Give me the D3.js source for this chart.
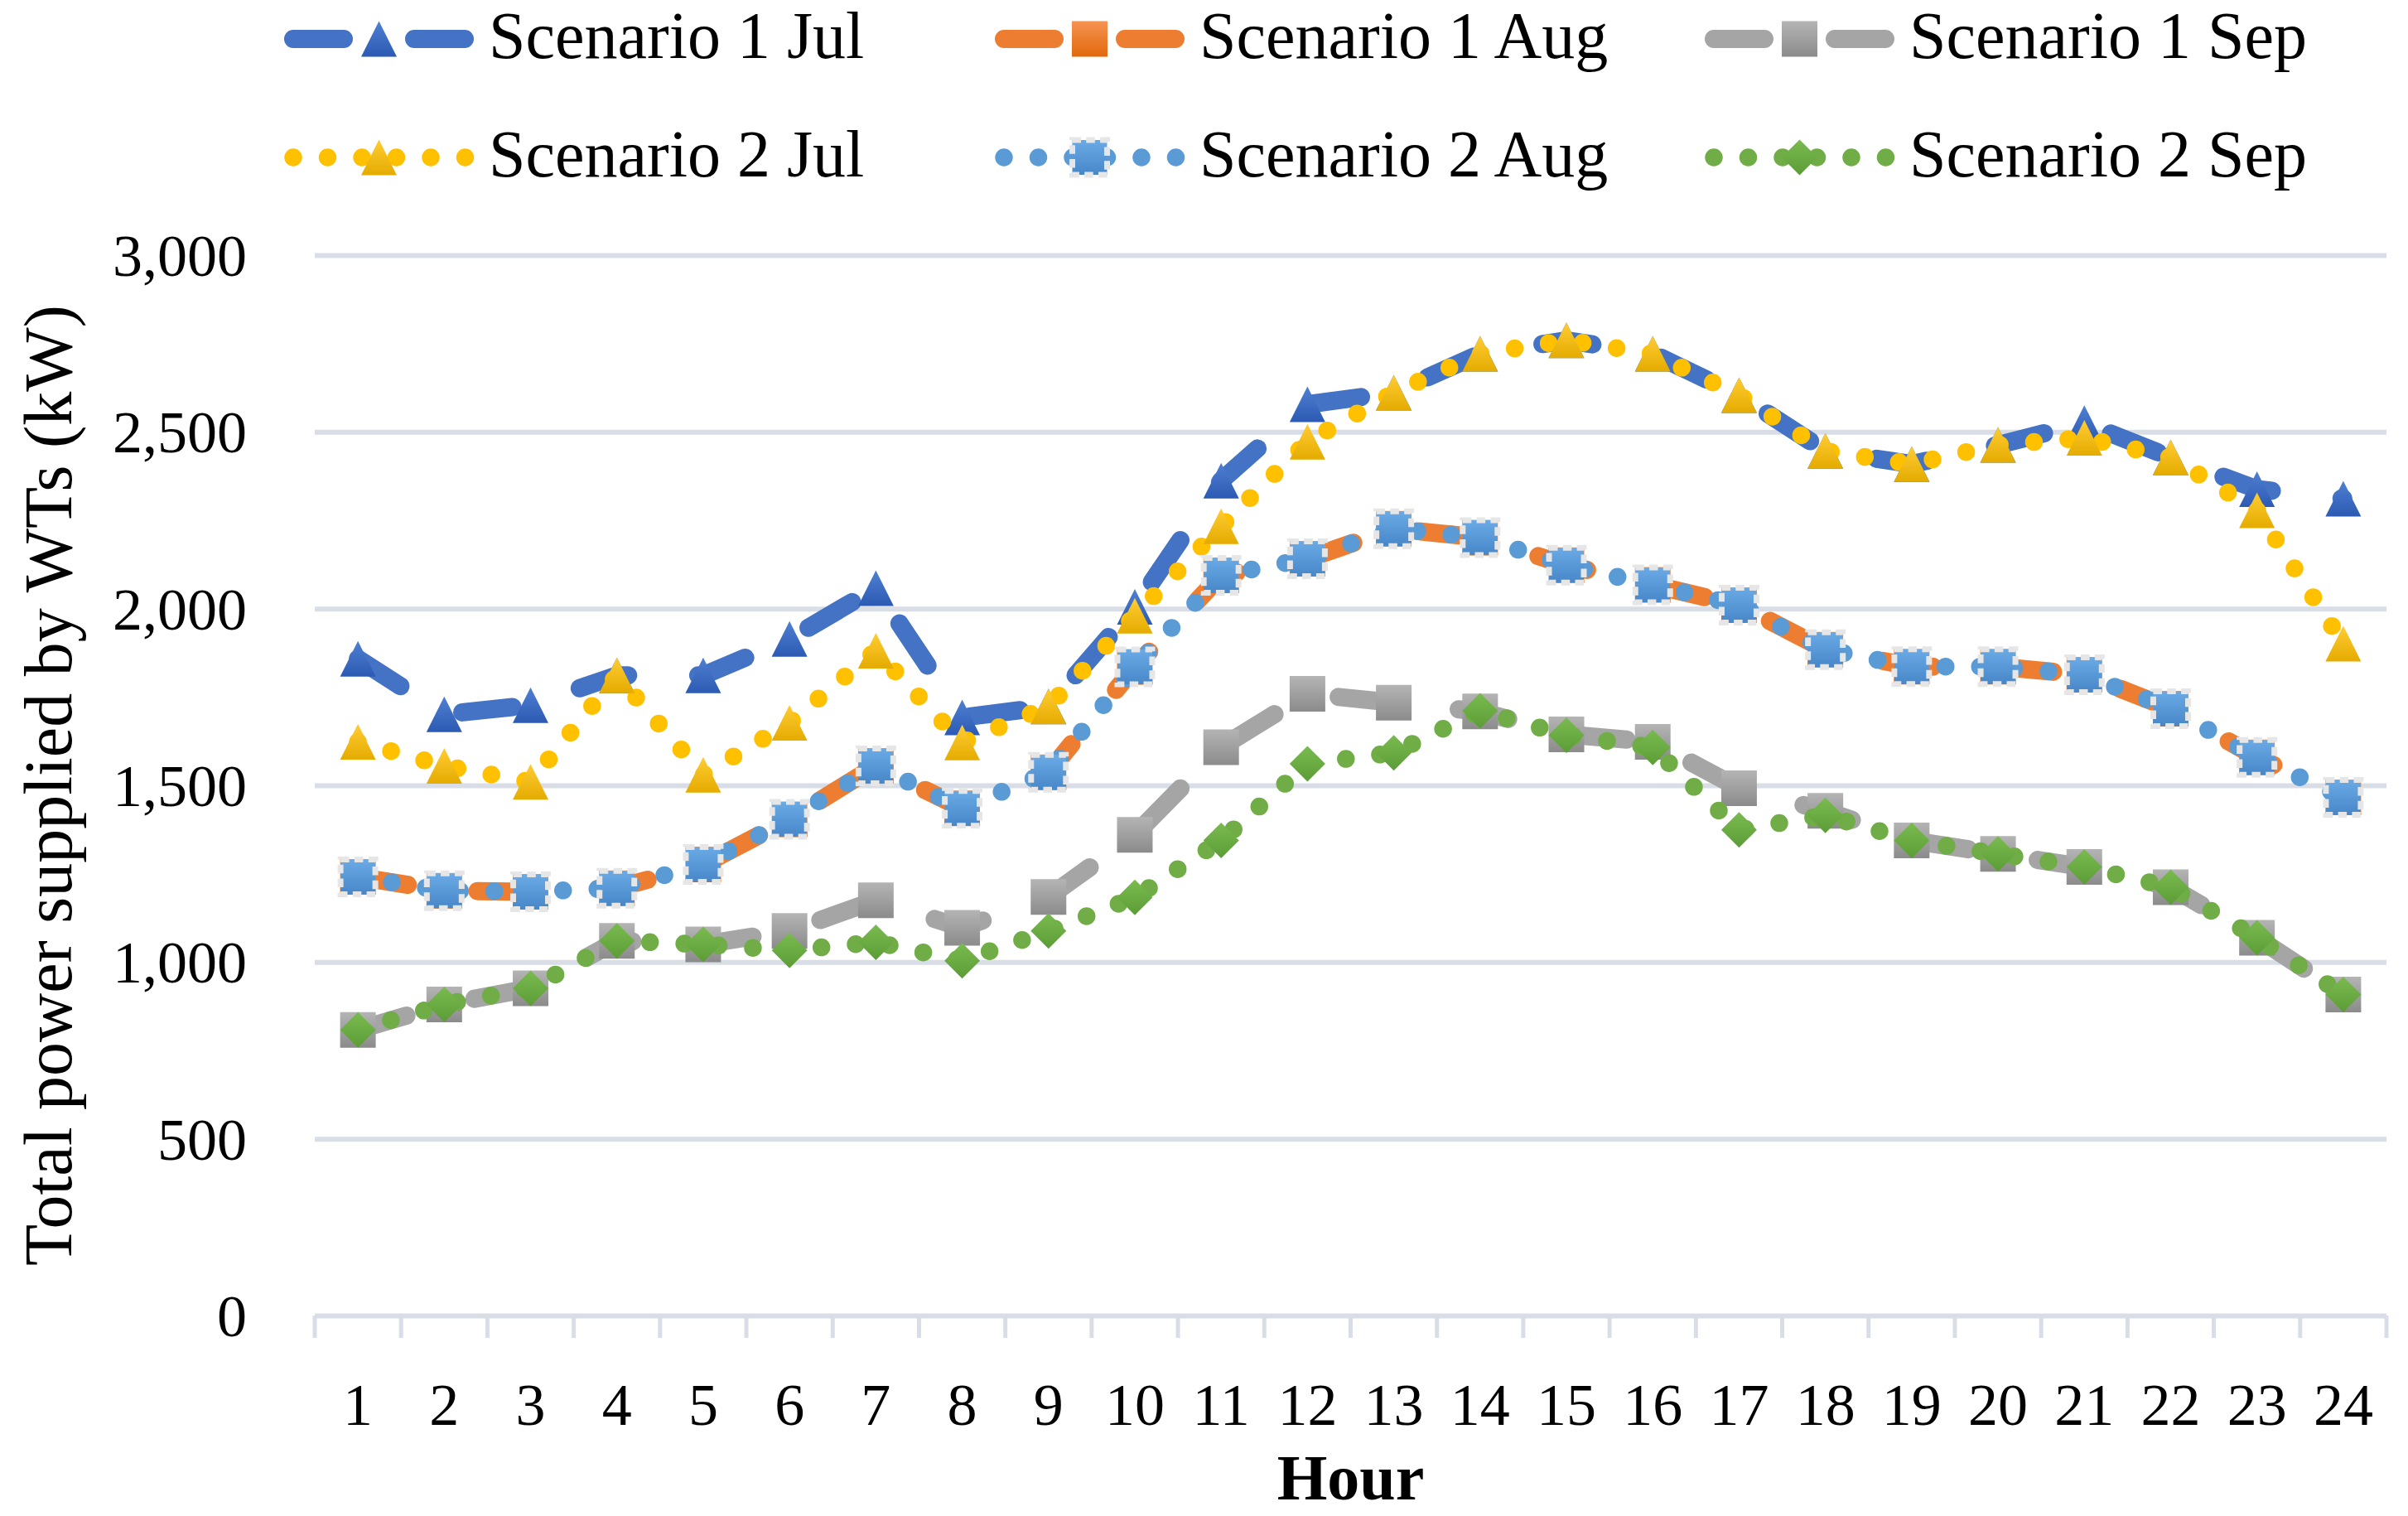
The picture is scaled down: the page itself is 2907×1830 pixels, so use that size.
<!DOCTYPE html>
<html>
<head>
<meta charset="utf-8">
<script src="https://cdn.jsdelivr.net/npm/d3@7.9.0/dist/d3.min.js"></script>
<style>
  body { margin: 0; background: #fff; }
  svg { display: block; }
  text { font-family: "Liberation Serif", "Times New Roman", serif; fill: #000; }
</style>
</head>
<body>
<svg id="chart" width="2907" height="1830"></svg>
<script>
// Data (kW per hour)
const hours = [1, 2, 3, 4, 5, 6, 7, 8, 9, 10, 11, 12, 13, 14, 15, 16, 17, 18, 19, 20, 21, 22, 23, 24];
const yTicks = [0, 500, 1000, 1500, 2000, 2500, 3000];

const s1Jul = [1858, 1701, 1727, 1811, 1811, 1914, 2058, 1692, 1723, 2005, 2362, 2578, 2611, 2721, 2759, 2721, 2604, 2446, 2409, 2463, 2525, 2428, 2338, 2311];
const s1Aug = [1241, 1202, 1199, 1209, 1276, 1404, 1555, 1435, 1537, 1835, 2094, 2141, 2226, 2201, 2123, 2067, 2010, 1884, 1836, 1836, 1813, 1717, 1579, 1466];
const s1Sep = [808, 880, 926, 1060, 1050, 1088, 1175, 1097, 1184, 1360, 1608, 1759, 1734, 1709, 1644, 1623, 1492, 1428, 1344, 1306, 1269, 1212, 1069, 908];
const s2Jul = [1623, 1555, 1510, 1811, 1530, 1677, 1881, 1621, 1723, 1980, 2233, 2472, 2611, 2721, 2759, 2721, 2604, 2446, 2409, 2463, 2483, 2428, 2278, 1901];
const s2Aug = [1241, 1202, 1199, 1209, 1276, 1404, 1555, 1435, 1537, 1835, 2094, 2141, 2226, 2201, 2123, 2067, 2010, 1884, 1836, 1836, 1813, 1717, 1579, 1466];
const s2Sep = [808, 880, 926, 1060, 1050, 1033, 1056, 1004, 1088, 1183, 1344, 1561, 1592, 1711, 1642, 1607, 1374, 1415, 1344, 1306, 1269, 1212, 1069, 908];

const seriesNames = ['Scenario 1 Jul', 'Scenario 1 Aug', 'Scenario 1 Sep', 'Scenario 2 Jul', 'Scenario 2 Aug', 'Scenario 2 Sep'];
const seriesValues = [s1Jul, s1Aug, s1Sep, s2Jul, s2Aug, s2Sep];

// style per series
const lineColors = ['#4472C4', '#ED7D31', '#A5A5A5', '#FFC000', '#5B9BD5', '#70AD47'];
const gradStops = [
  ['#4f80d2', '#2c5ab3'],
  ['#f59352', '#e2680c'],
  ['#b4b4b4', '#8b8b8b'],
  ['#ffcc33', '#e4ab00'],
  ['#6aaae5', '#4787c9'],
  ['#7abb50', '#5c9c36']
];
const markerKinds = ['triangle', 'square', 'square', 'triangle', 'dsquare', 'diamond'];
const dashKinds = ['long', 'long', 'long', 'dot', 'dot', 'dot'];

const svg = d3.select('#chart');

const x = d3.scaleBand().domain(hours).range([380, 2881]).padding(0);
const cx = (h) => x(h) + x.bandwidth() / 2;
const y = d3.scaleLinear().domain([0, 3000]).range([1588, 308]);

// gradients for marker fills
const defs = svg.append('defs');
gradStops.forEach((g, i) => {
  const lg = defs.append('linearGradient')
    .attr('id', 'grad' + i)
    .attr('x1', 0).attr('y1', 0).attr('x2', 0).attr('y2', 1);
  lg.append('stop').attr('offset', '0%').attr('stop-color', g[0]);
  lg.append('stop').attr('offset', '100%').attr('stop-color', g[1]);
});

// Gridlines + y tick labels
const yAxis = d3.axisLeft(y)
  .tickValues(yTicks)
  .tickFormat(d3.format(','))
  .tickSize(-(x.range()[1] - x.range()[0]))
  .tickPadding(82);

const gy = svg.append('g')
  .attr('transform', `translate(${x.range()[0]},0)`)
  .call(yAxis);
gy.select('.domain').remove();
gy.selectAll('.tick line').attr('stroke', '#D9DEE6').attr('stroke-width', 6);
gy.selectAll('.tick text')
  .attr('font-size', 72)
  .attr('dy', '0.34em');

// X axis labels
const xAxis = d3.axisBottom(x).tickSize(0).tickPadding(81);
const gx = svg.append('g')
  .attr('transform', `translate(0,${y(0)})`)
  .call(xAxis);
gx.select('.domain').remove();
gx.selectAll('.tick text').attr('font-size', 72);

// category boundary tick marks
const boundaries = hours.map((h) => x(h)).concat([x.range()[1]]);
svg.append('g').selectAll('line')
  .data(boundaries)
  .join('line')
  .attr('x1', (d) => d).attr('x2', (d) => d)
  .attr('y1', y(0)).attr('y2', y(0) + 27)
  .attr('stroke', '#D9DEE6')
  .attr('stroke-width', 5);

// axis titles
svg.append('text')
  .attr('x', (x.range()[0] + x.range()[1]) / 2)
  .attr('y', 1810)
  .attr('text-anchor', 'middle')
  .attr('font-size', 78)
  .attr('font-weight', 'bold')
  .text('Hour');

svg.append('text')
  .attr('transform', `translate(86,${(y(0) + y(3000)) / 2}) rotate(-90)`)
  .attr('text-anchor', 'middle')
  .attr('font-size', 82)
  .text('Total power supplied by WTs (kW)');

// marker shapes, centred on 0,0
function markerPath(kind) {
  if (kind === 'triangle') return 'M0,-21.5L21.5,21.5L-21.5,21.5Z';
  if (kind === 'diamond') return 'M0,-21.5L21.5,0L0,21.5L-21.5,0Z';
  if (kind === 'dsquare') return 'M-21,-21H21V21H-21Z';
  return 'M-21.5,-21.5H21.5V21.5H-21.5Z';
}

function drawMarker(g, kind, i) {
  const p = g.append('path')
    .attr('d', markerPath(kind))
    .attr('fill', `url(#grad${i})`);
  if (kind === 'dsquare') {
    // dotted light border, as the round-dot line style carries onto the marker
    p.attr('stroke', '#E7E6E6')
      .attr('stroke-width', 7)
      .attr('stroke-dasharray', '10.5,6.3');
  }
}

// long dash ~ 61 on / 84.7 off with round caps, round dot every 41.5 px
const dashArray = (kind) => (kind === 'long' ? '61,84.7' : '0,41.5');
const lineWidth = (kind) => (kind === 'long' ? 22 : 21.5);

const line = d3.line()
  .x((d) => cx(d.h))
  .y((d) => y(d.v));

// series: line then markers, in order
seriesValues.forEach((vals, i) => {
  const pts = hours.map((h, k) => ({ h: h, v: vals[k] }));
  const g = svg.append('g').attr('class', 'series');
  g.append('path')
    .datum(pts)
    .attr('d', line)
    .attr('fill', 'none')
    .attr('stroke', lineColors[i])
    .attr('stroke-width', lineWidth(dashKinds[i]))
    .attr('stroke-linecap', 'round')
    .attr('stroke-linejoin', 'round')
    .attr('stroke-dasharray', dashArray(dashKinds[i]));

  pts.forEach((d) => {
    const m = g.append('g').attr('transform', `translate(${cx(d.h)},${y(d.v)})`);
    drawMarker(m, markerKinds[i], i);
  });
});

// Legend: 2 rows x 3 columns
const legRows = [47, 190];
const legCols = [343, 1201, 2058];
const legLen = 229;

seriesNames.forEach((name, i) => {
  const row = Math.floor(i / 3);
  const col = i % 3;
  const x0 = legCols[col];
  const yy = legRows[row];
  const g = svg.append('g').attr('class', 'legend-item');
  if (dashKinds[i] === 'long') {
    g.append('line')
      .attr('x1', x0 + 11).attr('x2', x0 + legLen - 11)
      .attr('y1', yy).attr('y2', yy)
      .attr('stroke', lineColors[i])
      .attr('stroke-width', 22)
      .attr('stroke-linecap', 'round')
      .attr('stroke-dasharray', '61,85');
  } else {
    g.append('line')
      .attr('x1', x0 + 11).attr('x2', x0 + 219)
      .attr('y1', yy).attr('y2', yy)
      .attr('stroke', lineColors[i])
      .attr('stroke-width', 21.5)
      .attr('stroke-linecap', 'round')
      .attr('stroke-dasharray', '0,41.5');
  }
  const m = g.append('g').attr('transform', `translate(${x0 + legLen / 2},${yy})`);
  drawMarker(m, markerKinds[i], i);
  g.append('text')
    .attr('x', x0 + 247)
    .attr('y', yy + 23)
    .attr('font-size', 80)
    .text(name);
});
</script>
</body>
</html>
